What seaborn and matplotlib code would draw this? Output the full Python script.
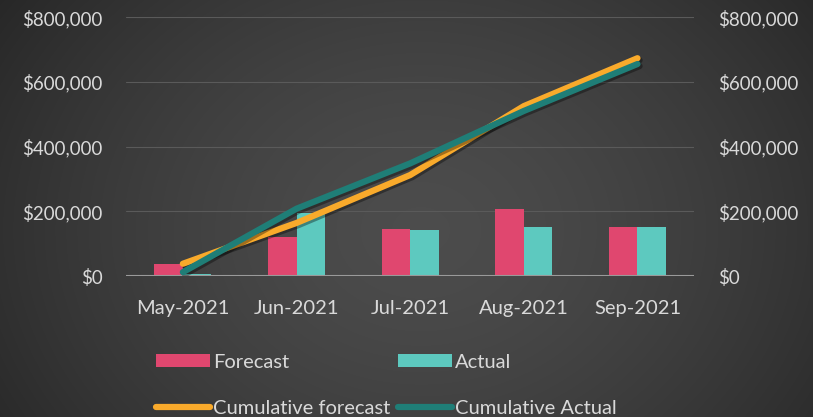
import numpy as np
import pandas as pd
import matplotlib
matplotlib.use("Agg")
import matplotlib.pyplot as plt
import matplotlib.patheffects as pe
from matplotlib.patches import Patch
from matplotlib.lines import Line2D
import seaborn as sns

months = ["May-2021", "Jun-2021", "Jul-2021", "Aug-2021", "Sep-2021"]
forecast = [36000, 122000, 146000, 208000, 150000]
actual = [5000, 195000, 141000, 150000, 150000]
cum_forecast = [38000, 164000, 312000, 525000, 673000]
cum_actual = [12000, 208000, 348000, 510000, 655000]
yticks = [0, 200000, 400000, 600000, 800000]

PINK = "#E0476F"
TEAL = "#5DC9BF"
ORANGE = "#F9AA2B"
DTEAL = "#1F7E77"
TXT = "#D9D9D9"

sns.set_theme(style="dark")
plt.rcParams["font.family"] = ["Lato", "DejaVu Sans"]

fig = plt.figure(figsize=(8.13, 4.17), dpi=100)

# radial gradient background
bg = fig.add_axes([0, 0, 1, 1], zorder=-10)
yy, xx = np.mgrid[0:417, 0:813]
r = np.sqrt(((xx - 420) / 520.0) ** 2 + ((yy - 230) / 420.0) ** 2)
val = np.clip(0.30 - 0.15 * r ** 1.5, 0.14, 0.30)
bg.imshow(np.dstack([val, val, val]), aspect="auto", extent=[0, 1, 0, 1])
bg.set_axis_off()

ax = fig.add_axes([0.155, 0.338, 0.699, 0.621])
ax.set_facecolor("none")

df = pd.DataFrame({
    "month": months * 2,
    "value": forecast + actual,
    "series": ["Forecast"] * 5 + ["Actual"] * 5,
})
sns.barplot(data=df, x="month", y="value", hue="series", palette=[PINK, TEAL],
            width=0.5, gap=0, ax=ax, legend=False, saturation=1, errorbar=None,
            linewidth=0, edgecolor="none")

ax.set_ylim(0, 800000)
ax.set_xlim(-0.5, 4.5)
ax.set_yticks(yticks)
ax.set_yticklabels(["${:,.0f}".format(v) for v in yticks])
ax.grid(axis="y", color="#5a5a5a", linewidth=0.8)
ax.grid(axis="x", visible=False)
ax.set_axisbelow(True)
for s in ax.spines.values():
    s.set_visible(False)
ax.axhline(0, color="#9a9a9a", linewidth=1.5, zorder=3)
ax.set_xlabel("")
ax.set_ylabel("")
ax.tick_params(axis="y", colors=TXT, labelsize=13.5, length=0, pad=17)
ax.tick_params(axis="x", colors=TXT, labelsize=14.5, length=0, pad=17)

ax2 = ax.twinx()
ax2.set_ylim(0, 800000)
ax2.set_yticks(yticks)
ax2.set_yticklabels(["${:,.0f}".format(v) for v in yticks])
ax2.tick_params(axis="y", colors=TXT, labelsize=13.5, length=0, pad=17)
ax2.grid(False)
for s in ax2.spines.values():
    s.set_visible(False)

shadow = [pe.SimpleLineShadow(offset=(1.5, -1.5), shadow_color="black", alpha=0.35), pe.Normal()]
xpos = np.arange(len(months))
sns.lineplot(x=xpos, y=cum_forecast, ax=ax2, color=ORANGE, linewidth=4.5,
             solid_capstyle="round", path_effects=shadow)
sns.lineplot(x=xpos, y=cum_actual, ax=ax2, color=DTEAL, linewidth=4.5,
             solid_capstyle="round", path_effects=shadow)
ax2.set_xlim(-0.5, 4.5)

handles = [
    Patch(facecolor=PINK, edgecolor="none", linewidth=0, label="Forecast"),
    Line2D([0], [0], color=ORANGE, linewidth=4.5, solid_capstyle="round", label="Cumulative forecast"),
    Patch(facecolor=TEAL, edgecolor="none", linewidth=0, label="Actual"),
    Line2D([0], [0], color=DTEAL, linewidth=4.5, solid_capstyle="round", label="Cumulative Actual"),
]
leg = fig.legend(handles=handles, ncol=2, loc="upper left", bbox_to_anchor=(0.192, 0.152),
                 frameon=False, fontsize=14.5, handlelength=2.7, handleheight=0.65,
                 handletextpad=0.15, columnspacing=0.35, labelspacing=1.45, labelcolor=TXT,
                 borderpad=0, borderaxespad=0)

fig.savefig("out.png", dpi=100)
